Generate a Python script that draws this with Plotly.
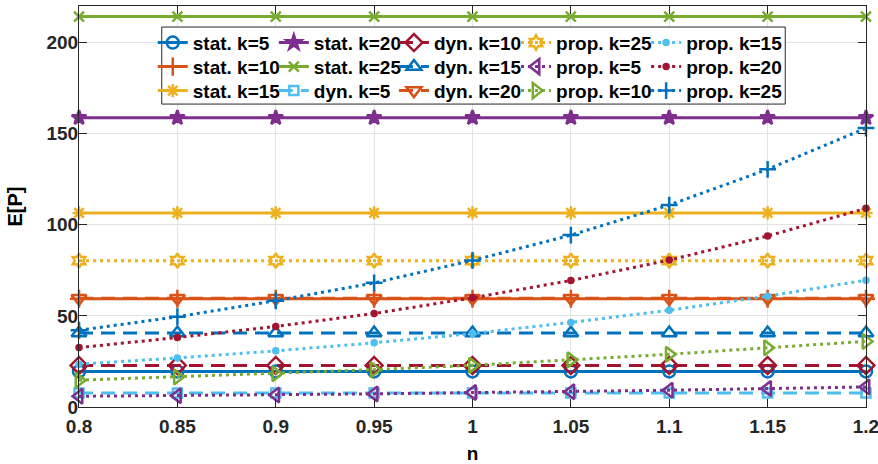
import plotly.graph_objects as go

n_vals = [0.8, 0.85, 0.9, 0.95, 1.0, 1.05, 1.1, 1.15, 1.2]

stat_k5 = [19.5] * 9
stat_k10 = [59.4] * 9
stat_k15 = [106.5] * 9
stat_k20 = [158.7] * 9
stat_k25 = [214.2] * 9
dyn_k5 = [7.7] * 9
dyn_k10 = [22.8] * 9
dyn_k15 = [40.6] * 9
dyn_k20 = [59.6] * 9
prop_k25_const = [80.3] * 9
prop_k5 = [5.9, 6.2, 6.6, 7.2, 7.9, 8.4, 9.2, 10.1, 11.0]
prop_k10 = [14.7, 16.5, 18.3, 20.5, 22.9, 25.9, 28.9, 32.5, 36.0]
prop_k15 = [23.5, 26.9, 30.8, 35.2, 40.3, 46.4, 53.1, 60.8, 69.6]
prop_k20 = [32.6, 38.1, 44.2, 51.3, 59.9, 69.4, 80.6, 93.8, 109.0]
prop_k25 = [42.1, 49.5, 58.3, 68.1, 80.4, 94.3, 110.8, 130.4, 153.0]

x_ticks = [0.8, 0.85, 0.9, 0.95, 1.0, 1.05, 1.1, 1.15, 1.2]
x_ticklabels = ["0.8", "0.85", "0.9", "0.95", "1", "1.05", "1.1", "1.15", "1.2"]
y_ticks = [0, 50, 100, 150, 200]

BLUE = "#0072BD"
ORANGE = "#D95319"
YELLOW = "#EDB120"
PURPLE = "#7E2F8E"
GREEN = "#77AC30"
LBLUE = "#4DBEEE"
RED = "#A2142F"

DASH = "14px,8px"
DOT = "3px,4px"

# (name, values, color, symbol, size, dash, legend column, legend row)
series = [
    ("stat. k=5", stat_k5, BLUE, "circle-open", 12, "solid", 0, 0),
    ("stat. k=10", stat_k10, ORANGE, "cross-thin-open", 13, "solid", 0, 1),
    ("stat. k=15", stat_k15, YELLOW, "asterisk-open", 11, "solid", 0, 2),
    ("stat. k=20", stat_k20, PURPLE, "star", 11, "solid", 1, 0),
    ("stat. k=25", stat_k25, GREEN, "x-thin-open", 10, "solid", 1, 1),
    ("dyn. k=5", dyn_k5, LBLUE, "square-open", 9, DASH, 1, 2),
    ("dyn. k=10", dyn_k10, RED, "diamond-open", 13, DASH, 2, 0),
    ("dyn. k=15", dyn_k15, BLUE, "triangle-up-open", 13, DASH, 2, 1),
    ("dyn. k=20", dyn_k20, ORANGE, "triangle-down-open", 13, DASH, 2, 2),
    ("prop. k=25", prop_k25_const, YELLOW, "hexagram-open", 11, DOT, 3, 0),
    ("prop. k=5", prop_k5, PURPLE, "triangle-left-open", 13, DOT, 3, 1),
    ("prop. k=10", prop_k10, GREEN, "triangle-right-open", 13, DOT, 3, 2),
    ("prop. k=15", prop_k15, LBLUE, "circle", 5, DOT, 4, 0),
    ("prop. k=20", prop_k20, RED, "circle", 5, DOT, 4, 1),
    ("prop. k=25", prop_k25, BLUE, "cross-thin-open", 12, DOT, 4, 2),
]

W, H = 878, 464
L, R, T, B = 79.3, 865.7, 6.0, 406.7
pw, ph = R - L, B - T


def px_x(p):
    return (p - L) / pw


def px_y(p):
    return (B - p) / ph


FONT = "Liberation Sans, Arial, sans-serif"
leg_font = dict(family=FONT, size=19, color="#000000", weight="bold")
col_text_x = [193, 314, 434, 556, 686]
row_y = [42.7, 66.7, 90.7]

fig = go.Figure()
legends = {}
for idx, (name, vals, color, sym, size, dash, col, row) in enumerate(series):
    key = "legend" if idx == 0 else f"legend{idx + 1}"
    fig.add_trace(go.Scatter(
        x=n_vals, y=vals, name=name, mode="lines+markers",
        line=dict(color=color, width=3, dash=dash),
        marker=dict(symbol=sym, size=size, color=color,
                    line=dict(color=color, width=2.5)),
        cliponaxis=False, legend=key,
    ))
    legends[key] = dict(
        bgcolor="rgba(0,0,0,0)", borderwidth=0, font=leg_font,
        xanchor="left", yanchor="middle", orientation="v",
        tracegroupgap=0, itemwidth=30,
        x=px_x(col_text_x[col] - 40), y=px_y(row_y[row]),
    )

axis_common = dict(
    showline=True, linecolor="#262626", linewidth=1, mirror="ticks",
    ticks="inside", ticklen=8, tickcolor="#262626", tickwidth=1,
    showgrid=True, gridcolor="#e3e3e3", gridwidth=1, zeroline=False,
    automargin=False, ticklabeloverflow="allow",
    tickfont=dict(family=FONT, size=19, color="#262626", weight="bold"),
)

fig.update_layout(
    width=W, height=H,
    margin=dict(l=L, r=W - R, t=T, b=H - B, pad=0),
    plot_bgcolor="white", paper_bgcolor="white",
    showlegend=True,
    xaxis=dict(axis_common, range=[0.79999, 1.20001], tickvals=x_ticks,
               ticktext=x_ticklabels, ticklabelstandoff=2,
               title=dict(text="n", font=dict(family=FONT, size=19, color="#000000", weight="bold"),
                          standoff=11)),
    yaxis=dict(axis_common, range=[0, 220], tickvals=y_ticks,
               ticklabelstandoff=-4,
               title=dict(text="E[P]", font=dict(family=FONT, size=20, color="#000000", weight="bold"),
                          standoff=18)),
    shapes=[dict(type="rect", xref="paper", yref="paper",
                 x0=px_x(162), x1=px_x(785), y0=px_y(104), y1=px_y(27),
                 fillcolor="white", line=dict(color="#262626", width=1),
                 layer="above")],
    **legends,
)

fig.write_html(
    "out.html",
    config={"displayModeBar": False},
    post_script="document.body.style.margin='0';document.body.style.overflow='hidden';",
)
